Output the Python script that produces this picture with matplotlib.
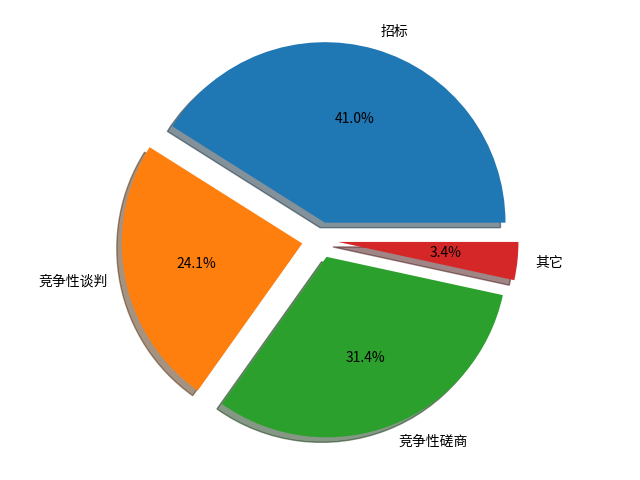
import matplotlib
matplotlib.use("Agg")
from matplotlib import pyplot as plt

plt.rcParams['font.family'] = ['Noto Sans CJK SC', 'DejaVu Sans']

labels = ['招标', '竞争性谈判', '竞争性磋商', '其它']
shares = [41.0, 24.1, 31.4, 3.4]
explode = [0.1, 0.1, 0.1, 0.1]

fig = plt.figure(figsize=(6.4, 4.8), dpi=100)
ax = fig.add_axes([0.03, 0.03, 0.94, 0.94])
ax.pie(shares, labels=labels, explode=explode, autopct='%1.1f%%',
       shadow=True, startangle=0, textprops={'fontsize': 10})
ax.set_aspect('equal')
fig.savefig("out.png", dpi=100)
